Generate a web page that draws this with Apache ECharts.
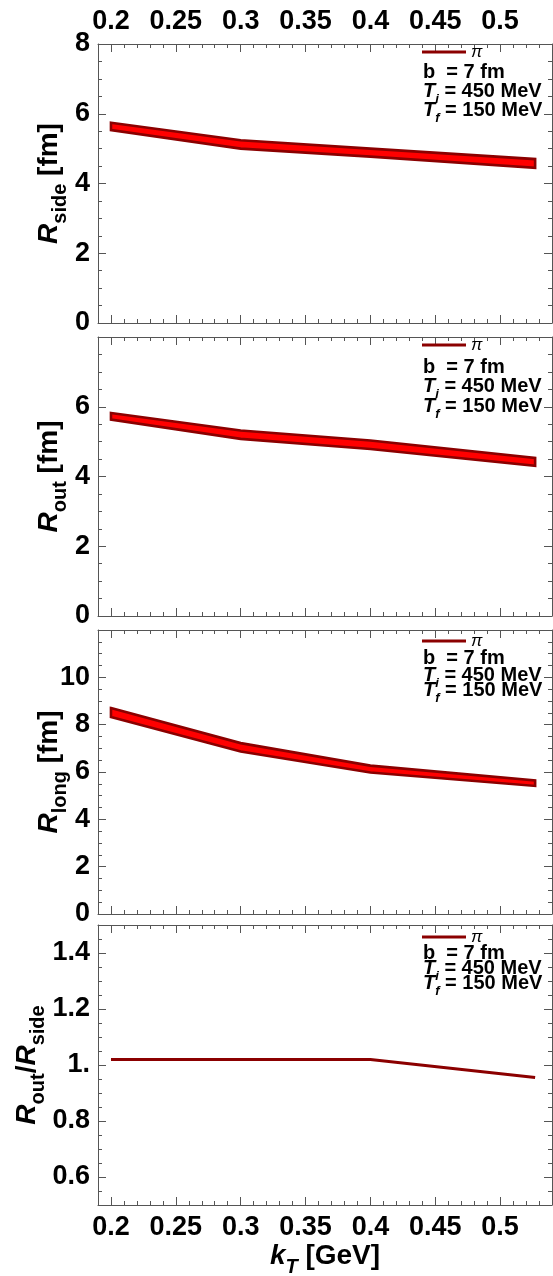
<!DOCTYPE html>
<html><head><meta charset="utf-8">
<script src="https://cdn.jsdelivr.net/npm/echarts@6/dist/echarts.min.js"></script>
<style>html,body{margin:0;padding:0;background:#fff}#c{width:553px;height:1276px}</style>
</head><body><div id="c"></div>
<script>
// ---- data ----
const kT = [0.2, 0.3, 0.4, 0.527];
const rsideUpper = [5.74, 5.24, 5.00, 4.70];
const rsideLower = [5.53, 5.00, 4.77, 4.45];
const routUpper  = [5.82, 5.32, 5.03, 4.53];
const routLower  = [5.63, 5.08, 4.79, 4.31];
const rlongUpper = [8.70, 7.22, 6.27, 5.64];
const rlongLower = [8.32, 6.87, 5.98, 5.41];
const ratioVals  = [1.02, 1.02, 1.02, 0.955];
const xTickLabels = [0.2, 0.25, 0.3, 0.35, 0.4, 0.45, 0.5];
const rsideTicks = [0, 2, 4, 6, 8];
const routTicks  = [0, 2, 4, 6];
const rlongTicks = [0, 2, 4, 6, 8, 10];
const ratioTicks = [0.6, 0.8, 1.0, 1.2, 1.4];
const seriesName = 'π';

// ---- layout / style ----
const FONT = "'Liberation Sans', Arial, Helvetica, sans-serif";
const FRAME = '#555';
const DARK = '#8b0000';
const FILL = '#ff0000';
const xMin = 0.19, xMax = 0.54;
function steps(a, b, s) { const r = []; const n = Math.round((b - a) / s); for (let i = 0; i <= n; i++) r.push(+(a + i * s).toFixed(4)); return r; }
function minorOf(a, b, s, major) { return steps(a, b, s).filter(v => !major.some(m => Math.abs(m - v) < 1e-6)); }
const xMinor = minorOf(xMin, xMax, 0.01, xTickLabels);

const panels = [
  { top: 44,  height: 279, min: 0,   max: 8,   major: steps(0, 8, 2),  labels: rsideTicks, minor: minorOf(0, 8, 0.5, steps(0, 8, 2)), titleX: 49 },
  { top: 337, height: 279, min: 0,   max: 8,   major: steps(0, 8, 2),  labels: routTicks,  minor: minorOf(0, 8, 0.5, steps(0, 8, 2)), titleX: 49 },
  { top: 630, height: 284, min: 0,   max: 12,  major: steps(0, 12, 2), labels: rlongTicks, minor: minorOf(0, 12, 0.5, steps(0, 12, 2)), titleX: 49 },
  { top: 925, height: 280, min: 0.5, max: 1.5, major: ratioTicks,      labels: ratioTicks, minor: minorOf(0.5, 1.5, 0.05, ratioTicks), titleX: 27 }
];

const labelStyle = { color: '#000', fontSize: 27, fontWeight: 'bold', fontFamily: FONT };
function fmt(v) { return Math.abs(v - 1) < 1e-9 ? '1.' : String(+v.toFixed(3)); }

function xAxis(gi, pos, vals, len, line, labels) {
  return {
    type: 'value', gridIndex: gi, position: pos, min: xMin, max: xMax,
    axisLine: { show: line, onZero: false, lineStyle: { color: FRAME, width: 1 } },
    axisTick: { show: true, inside: true, length: len, customValues: vals, lineStyle: { color: FRAME, width: 1 } },
    axisLabel: Object.assign({ show: !!labels, margin: 9, formatter: fmt }, labels ? { customValues: labels } : {}, labelStyle),
    splitLine: { show: false }
  };
}
function yAxis(gi, pos, p, vals, len, line, labels) {
  return {
    type: 'value', gridIndex: gi, position: pos, min: p.min, max: p.max,
    axisLine: { show: line, onZero: false, lineStyle: { color: FRAME, width: 1 } },
    axisTick: { show: true, inside: true, length: len, customValues: vals, lineStyle: { color: FRAME, width: 1 } },
    axisLabel: Object.assign({ show: !!labels, margin: 8, formatter: fmt }, labels ? { customValues: labels } : {}, labelStyle),
    splitLine: { show: false }
  };
}

const grids = [], xAxes = [], yAxes = [];
panels.forEach((p, gi) => {
  grids.push({ left: 98, right: 1, top: p.top, height: p.height, outerBoundsMode: 'none', containLabel: false });
  xAxes.push(xAxis(gi, 'bottom', xTickLabels, 8, true, gi === 3 ? xTickLabels : null));
  xAxes.push(xAxis(gi, 'bottom', xMinor, 4, false, null));
  xAxes.push(xAxis(gi, 'top', xTickLabels, 8, true, gi === 0 ? xTickLabels : null));
  xAxes.push(xAxis(gi, 'top', xMinor, 4, false, null));
  yAxes.push(yAxis(gi, 'left', p, p.major, 8, true, p.labels));
  yAxes.push(yAxis(gi, 'left', p, p.minor, 4, false, null));
  yAxes.push(yAxis(gi, 'right', p, p.major, 8, true, null));
  yAxes.push(yAxis(gi, 'right', p, p.minor, 4, false, null));
});

function band(gi, upper, lower) {
  return {
    type: 'custom', name: seriesName, xAxisIndex: gi * 4, yAxisIndex: gi * 4,
    itemStyle: { color: DARK },
    data: kT.map((x, i) => [x, upper[i], lower[i]]),
    renderItem: function (params, api) {
      if (params.dataIndex !== 0) return null;
      const pts = [];
      for (let i = 0; i < kT.length; i++) pts.push(api.coord([kT[i], upper[i]]));
      for (let i = kT.length - 1; i >= 0; i--) pts.push(api.coord([kT[i], lower[i]]));
      return { type: 'polygon', shape: { points: pts }, style: { fill: FILL, stroke: DARK, lineWidth: 2.6, lineJoin: 'miter' } };
    }
  };
}
const series = [
  band(0, rsideUpper, rsideLower),
  band(1, routUpper, routLower),
  band(2, rlongUpper, rlongLower),
  { type: 'line', name: seriesName, xAxisIndex: 12, yAxisIndex: 12, data: kT.map((x, i) => [x, ratioVals[i]]),
    symbol: 'none', lineStyle: { color: DARK, width: 3 }, itemStyle: { color: DARK } }
];

const legendCenters = [52, 345, 641, 937];
const legends = legendCenters.map(c => ({
  data: [{ name: seriesName, icon: 'rect', itemStyle: { color: DARK } }],
  left: 422, top: c - 8.5, padding: 0, itemWidth: 44, itemHeight: 3, selectedMode: false,
  textStyle: { fontStyle: 'italic', fontSize: 17, color: '#000', fontFamily: FONT }
}));

const annoRich = {
  n: { fontSize: 20, fontWeight: 'bold', fontFamily: FONT, color: '#000', lineHeight: 22, verticalAlign: 'middle' },
  t: { fontSize: 20, fontWeight: 'bold', fontStyle: 'italic', fontFamily: FONT, color: '#000', lineHeight: 22, verticalAlign: 'middle' },
  s: { fontSize: 13, fontWeight: 'bold', fontStyle: 'italic', fontFamily: FONT, color: '#000', lineHeight: 30, verticalAlign: 'bottom' }
};
const annoLines = ['{n|b  = 7 fm}', '{t|T}{s|i}{n| = 450 MeV}', '{t|T}{s|f}{n| = 150 MeV}'];
const annoY = [[72, 91, 110], [367, 386, 406], [658, 675, 690], [953, 968, 983]];
const graphics = [];
annoY.forEach(ys => ys.forEach((y, k) => {
  graphics.push({ type: 'text', x: 423, y: y, z: 100,
    style: { text: annoLines[k], rich: annoRich, align: 'left', verticalAlign: 'middle', textAlign: 'left', textVerticalAlign: 'middle' } });
}));

const titleRich = {
  r: { fontSize: 28, fontWeight: 'bold', fontStyle: 'italic', fontFamily: FONT, color: '#000', lineHeight: 30, verticalAlign: 'middle' },
  n: { fontSize: 28, fontWeight: 'bold', fontFamily: FONT, color: '#000', lineHeight: 30, verticalAlign: 'middle' },
  s: { fontSize: 20, fontWeight: 'bold', fontFamily: FONT, color: '#000', lineHeight: 42, verticalAlign: 'bottom' },
  si: { fontSize: 20, fontWeight: 'bold', fontStyle: 'italic', fontFamily: FONT, color: '#000', lineHeight: 42, verticalAlign: 'bottom' }
};
const yTitles = ['{r|R}{s|side}{n| [fm]}', '{r|R}{s|out}{n| [fm]}', '{r|R}{s|long}{n| [fm]}', '{r|R}{s|out}{n|/}{r|R}{s|side}'];
panels.forEach((p, gi) => {
  graphics.push({ type: 'text', x: p.titleX, y: p.top + p.height / 2, rotation: Math.PI / 2,
    style: { text: yTitles[gi], rich: titleRich, align: 'center', verticalAlign: 'middle', textAlign: 'center', textVerticalAlign: 'middle' } });
});
graphics.push({ type: 'text', x: 325, y: 1256,
  style: { text: '{r|k}{si|T}{n| [GeV]}', rich: titleRich, align: 'center', verticalAlign: 'middle', textAlign: 'center', textVerticalAlign: 'middle' } });

const chart = echarts.init(document.getElementById('c'), null, { renderer: 'canvas' });
chart.setOption({
  animation: false,
  backgroundColor: '#fff',
  grid: grids, xAxis: xAxes, yAxis: yAxes, series: series, legend: legends, graphic: graphics
});
</script></body></html>
